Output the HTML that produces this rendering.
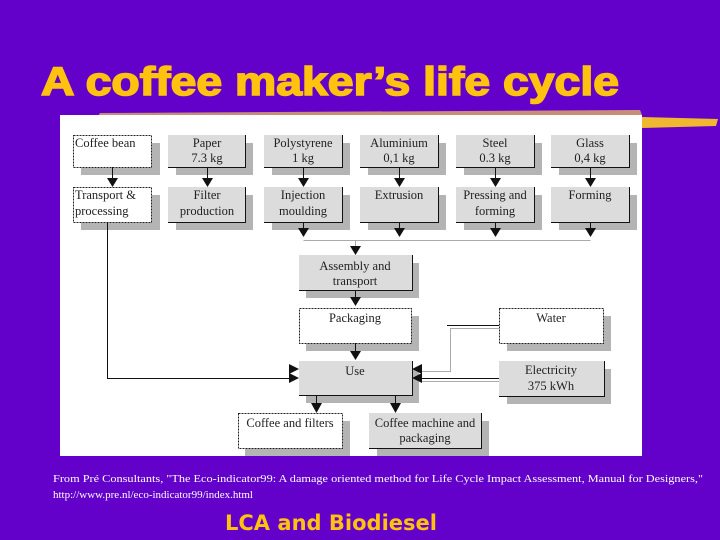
<!DOCTYPE html>
<html><head><meta charset="utf-8"><style>
html,body{margin:0;padding:0;background:#6300c9;width:720px;height:540px;overflow:hidden}
svg{display:block}
</style></head><body>
<svg width="720" height="540" viewBox="0 0 720 540" xmlns="http://www.w3.org/2000/svg">
<rect width="720" height="540" fill="#6300c9"/>
<text x="41" y="95" font-family="Liberation Sans, sans-serif" font-weight="bold" font-size="40" fill="#ffc20e" stroke="#ffc20e" stroke-width="1.6" textLength="578" lengthAdjust="spacingAndGlyphs">A coffee maker’s life cycle</text>
<!-- gold streaks -->
<path d="M100 113 L640 110 L642 115 L98 116 Z" fill="#f3c75a" opacity="0.7"/>
<path d="M642 117 L718 119 L716 126 L642 128 Z" fill="#f0b830"/>
<rect x="60" y="115" width="582" height="341" fill="#ffffff"/>
<g font-family="Liberation Serif, serif" font-size="12.5" fill="#222" text-anchor="middle">
<g fill="#b4b4b4">
<rect x="81" y="143" width="79" height="32"/><rect x="176" y="143" width="77" height="32"/><rect x="272" y="143" width="78" height="32"/><rect x="368" y="143" width="78" height="32"/><rect x="464" y="143" width="78" height="32"/><rect x="559" y="143" width="78" height="32"/>
<rect x="81" y="195" width="79" height="35"/><rect x="176" y="195" width="77" height="35"/><rect x="272" y="195" width="78" height="35"/><rect x="368" y="195" width="78" height="35"/><rect x="464" y="195" width="78" height="35"/><rect x="559" y="195" width="78" height="35"/>
<rect x="306" y="263" width="113" height="35"/><rect x="306" y="316" width="113" height="35"/><rect x="306" y="369" width="113" height="34"/>
<rect x="507" y="316" width="104" height="35"/><rect x="507" y="369" width="104" height="35"/>
<rect x="245" y="421" width="105" height="35"/><rect x="377" y="421" width="112" height="35"/>
</g>
<g fill="#fff" stroke="#222" stroke-width="1" stroke-dasharray="2,1">
<rect x="73.5" y="135.5" width="78" height="32"/><rect x="73.5" y="187.5" width="78" height="35"/>
<rect x="299.5" y="308.5" width="112" height="35"/><rect x="499.5" y="308.5" width="104" height="35"/>
<rect x="238.5" y="413.5" width="104" height="35"/>
</g>
<g fill="#dcdcdc">
<rect x="168" y="135" width="77" height="32"/><rect x="264" y="135" width="78" height="32"/><rect x="360" y="135" width="78" height="32"/><rect x="456" y="135" width="78" height="32"/><rect x="551" y="135" width="78" height="32"/>
<rect x="168" y="187" width="77" height="35"/><rect x="264" y="187" width="78" height="35"/><rect x="360" y="187" width="78" height="35"/><rect x="456" y="187" width="78" height="35"/><rect x="551" y="187" width="78" height="35"/>
<rect x="299" y="255" width="113" height="35"/><rect x="299" y="361" width="113" height="34"/><rect x="499" y="361" width="105" height="35"/><rect x="369" y="413" width="112" height="35"/>
</g>
<g stroke="#111" stroke-width="1" fill="none">
<path d="M245.5 135V167.5H168M342.5 135V167.5H264M438.5 135V167.5H360M534.5 135V167.5H456M629.5 135V167.5H551"/>
<path d="M245.5 187V222.5H168M342.5 187V222.5H264M438.5 187V222.5H360M534.5 187V222.5H456M629.5 187V222.5H551"/>
<path d="M412.5 255V290.5H299M412.5 361V395.5H299M604.5 361V396.5H499M481.5 413V448.5H369"/>
<path d="M112.5 167V178M207.5 167V178M303.5 167V178M399.5 167V178M495.5 167V178M590.5 167V178"/>
<path d="M303.5 222V229M399.5 222V229M495.5 222V229M590.5 222V229"/>
<path d="M107.5 222V378.5H290"/>
<path d="M355.5 290V297M355.5 343V351"/>
<path d="M316.5 395V404M395.5 395V404"/>
<path d="M447 325.5H499M499 378.5H422"/>
</g>
<g stroke="#aaa" stroke-width="1" fill="none">
<path d="M303.5 240.5H590.5M355.5 240V247"/>
<path d="M499 328.5H450.5V371.5H422M499 381.5H422"/>
</g>
<g fill="#111">
<path d="M107 178h11l-5.5 9zM202 178h11l-5.5 9zM298 178h11l-5.5 9zM394 178h11l-5.5 9zM490 178h11l-5.5 9zM585 178h11l-5.5 9z"/>
<path d="M298 228h11l-5.5 9zM394 228h11l-5.5 9zM490 228h11l-5.5 9zM585 228h11l-5.5 9z"/>
<path d="M350 246h11l-5.5 9zM350 297h11l-5.5 9zM350 351h11l-5.5 9z"/>
<path d="M311 403h11l-5.5 10zM390 403h11l-5.5 10z"/>
<path d="M289 364l10 5-10 5zM289 373l10 5-10 5z"/>
<path d="M422 364l-10 5 10 5zM422 373l-10 5 10 5z"/>
</g>
<text x="75" y="147" text-anchor="start">Coffee bean</text>
<text x="207" y="147">Paper</text><text x="207" y="162">7.3 kg</text>
<text x="303" y="147">Polystyrene</text><text x="303" y="162">1 kg</text>
<text x="399" y="147">Aluminium</text><text x="399" y="162">0,1 kg</text>
<text x="495" y="147">Steel</text><text x="495" y="162">0.3 kg</text>
<text x="590" y="147">Glass</text><text x="590" y="162">0,4 kg</text>
<text x="75" y="199" text-anchor="start">Transport &amp;</text><text x="75" y="215" text-anchor="start">processing</text>
<text x="207" y="199">Filter</text><text x="207" y="215">production</text>
<text x="303" y="199">Injection</text><text x="303" y="215">moulding</text>
<text x="399" y="199">Extrusion</text>
<text x="495" y="199">Pressing and</text><text x="495" y="215">forming</text>
<text x="590" y="199">Forming</text>
<text x="355" y="270">Assembly and</text><text x="355" y="285">transport</text>
<text x="355" y="322">Packaging</text>
<text x="551" y="322">Water</text>
<text x="355" y="375">Use</text>
<text x="551" y="374">Electricity</text><text x="551" y="390">375 kWh</text>
<text x="290" y="427">Coffee and filters</text>
<text x="425" y="427">Coffee machine and</text><text x="425" y="442">packaging</text>
</g>
<g font-family="Liberation Serif, serif" font-size="11" fill="#ffffff">
<text x="53" y="482" textLength="650" lengthAdjust="spacingAndGlyphs">From Pré Consultants, "The Eco-indicator99: A damage oriented method for Life Cycle Impact Assessment, Manual for Designers,"</text>
<text x="53" y="498">http://www.pre.nl/eco-indicator99/index.html</text>
</g>
<text x="225" y="530" font-family="DejaVu Sans, sans-serif" font-weight="bold" font-size="21" fill="#ffc20e" textLength="212" lengthAdjust="spacingAndGlyphs">LCA and Biodiesel</text>
</svg>
</body></html>
